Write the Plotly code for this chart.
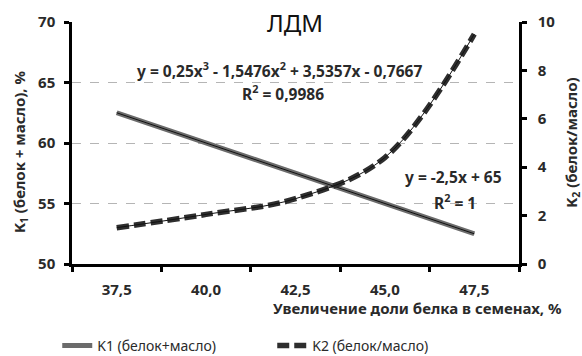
import plotly.graph_objects as go

categories = ["37,5", "40,0", "42,5", "45,0", "47,5"]
k1_values = [62.5, 60.0, 57.5, 55.0, 52.5]
k2_values = [1.5, 2.05, 2.7, 4.4, 9.5]
left_ticks = [50, 55, 60, 65, 70]
right_ticks = [0, 2, 4, 6, 8, 10]

FONT = "Noto Sans"
TXT = "#2a2a2a"

fig = go.Figure()

fig.add_trace(go.Scatter(x=categories, y=k1_values, mode="lines",
                         name="K1 (белок+масло)",
                         line=dict(color="#6b6b6b", width=5)))
fig.add_trace(go.Scatter(x=categories, y=k1_values, mode="lines",
                         showlegend=False, hoverinfo="skip",
                         line=dict(color="#111111", width=1)))
fig.add_trace(go.Scatter(x=categories, y=k2_values, mode="lines",
                         name="K2 (белок/масло)", yaxis="y2",
                         line=dict(color="#2e2e2e", width=5.5, dash="12px,5px", shape="spline")))
fig.add_trace(go.Scatter(x=categories, y=k2_values, mode="lines",
                         showlegend=False, hoverinfo="skip", yaxis="y2",
                         line=dict(color="#111111", width=1, shape="spline")))

tickfont = dict(family=FONT, size=15, color=TXT, weight="bold")

fig.update_layout(
    width=582, height=356,
    margin=dict(l=72, r=63, t=22, b=92, autoexpand=False),
    paper_bgcolor="white", plot_bgcolor="white",
    font=dict(family=FONT, size=14, color=TXT),
    showlegend=True,
    legend=dict(orientation="h", x=-0.033, xanchor="left", y=-0.338, yanchor="middle",
                font=dict(family=FONT, size=14, color=TXT),
                entrywidth=170, entrywidthmode="pixels"),
    xaxis=dict(type="category", range=[-0.5, 4.5], showgrid=False,
               showline=True, linecolor="black", linewidth=2.5,
               ticks="outside", tickson="boundaries", ticklen=5, tickwidth=2.5, tickcolor="black",
               ticklabelstandoff=10, tickfont=tickfont),
    yaxis=dict(range=[50, 70], tickvals=left_ticks, showgrid=True,
               gridcolor="#b5b5b5", griddash="dash", gridwidth=1,
               showline=True, linecolor="black", linewidth=2.5,
               ticks="outside", ticklen=5, tickwidth=2.5, tickcolor="black",
               zeroline=False, ticklabelstandoff=6, tickfont=tickfont),
    yaxis2=dict(range=[0, 10], tickvals=right_ticks, overlaying="y", side="right",
                showgrid=False, showline=True, linecolor="black", linewidth=2.5,
                ticks="outside", ticklen=5, tickwidth=2.5, tickcolor="black",
                zeroline=False, ticklabelstandoff=8, tickfont=tickfont),
)

bold = dict(family=FONT, size=15.5, color=TXT, weight="bold")
ann = [
    dict(text="ЛДМ", x=0.499, y=1.0, font=dict(family=FONT, size=24, color="#111111")),
    dict(text="y = 0,25x<sup>3</sup> - 1,5476x<sup>2</sup> + 3,5357x - 0,7667", x=0.141, y=0.803,
         xanchor="left", font=bold),
    dict(text="R<sup>2</sup> = 0,9986", x=0.472, y=0.706, font=bold),
    dict(text="y = -2,5x + 65", x=0.740, y=0.358, xanchor="left", font=bold),
    dict(text="R<sup>2</sup> = 1", x=0.857, y=0.258, font=bold),
    dict(text="Увеличение доли белка в семенах, %", x=0.772, y=-0.182,
         font=dict(family=FONT, size=15, color=TXT, weight="bold")),
    dict(text="K<sub>1</sub> (белок + масло), %", x=-0.116, y=0.463, textangle=-90,
         font=dict(family=FONT, size=15, color=TXT, weight="bold")),
    dict(text="K<sub>2</sub> (белок/масло)", x=1.118, y=0.5, textangle=-90,
         font=dict(family=FONT, size=15, color=TXT, weight="bold")),
]
for a in ann:
    a.setdefault("xanchor", "center")
    fig.add_annotation(xref="paper", yref="paper", showarrow=False,
                       yanchor="middle", **a)

fig.write_html("out.html", config={"displayModeBar": False},
               post_script="document.body.style.margin='0';document.body.style.padding='0';")
